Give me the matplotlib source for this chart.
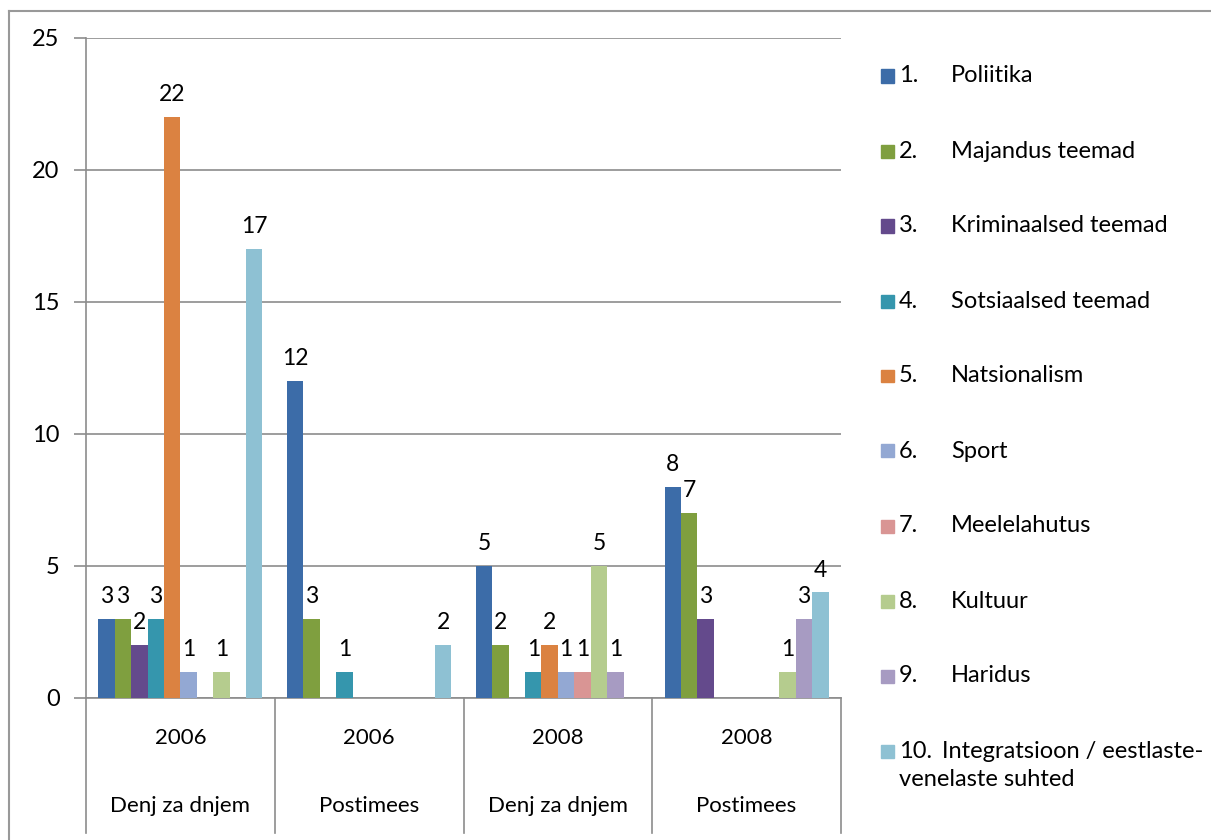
import matplotlib.pyplot as plt
from matplotlib.lines import Line2D
from matplotlib.patches import Rectangle
import numpy as np

plt.rcParams['font.family'] = ['Lato', 'DejaVu Sans']

# Data
years = ['2006', '2006', '2008', '2008']
papers = ['Denj za dnjem', 'Postimees', 'Denj za dnjem', 'Postimees']
nums = ['1.', '2.', '3.', '4.', '5.', '6.', '7.', '8.', '9.', '10.']
topics = ['Poliitika', 'Majandus teemad', 'Kriminaalsed teemad', 'Sotsiaalsed teemad',
          'Natsionalism', 'Sport', 'Meelelahutus', 'Kultuur', 'Haridus',
          'Integratsioon / eestlaste-\nvenelaste suhted']
values = [
    [3, 12, 5, 8],   # Poliitika
    [3, 3, 2, 7],    # Majandus
    [2, 0, 0, 3],    # Kriminaalsed
    [3, 1, 1, 0],    # Sotsiaalsed
    [22, 0, 2, 0],   # Natsionalism
    [1, 0, 1, 0],    # Sport
    [0, 0, 1, 0],    # Meelelahutus
    [1, 0, 5, 1],    # Kultuur
    [0, 0, 1, 3],    # Haridus
    [17, 2, 0, 4],   # Integratsioon
]
colors = ['#3c6ca8', '#7f9f3f', '#644a8c', '#3596ad', '#db8241',
          '#93a8d3', '#d99594', '#b5cc8e', '#a79bc2', '#8ec1d3']

W, H = 1211, 840
fig = plt.figure(figsize=(W / 100, H / 100), dpi=100)
x0, x1, y0, y1 = 86, 841, 698, 38
ax = fig.add_axes([x0 / W, 1 - y0 / H, (x1 - x0) / W, (y0 - y1) / H])

n = len(topics)
bw = 0.087
centers = np.arange(len(years)) + 0.5
for i in range(n):
    xs = centers + (i - (n - 1) / 2) * bw
    ax.bar(xs, values[i], width=bw, color=colors[i], zorder=3)
    for x, v in zip(xs, values[i]):
        if v > 0:
            ax.text(x, v + 0.45, str(v), ha='center', va='bottom', fontsize=16.5, color='black', zorder=4)

ax.set_xlim(0, len(years))
ax.set_ylim(0, 25)
ax.set_yticks(range(0, 26, 5))
ax.yaxis.grid(True, color='#8c8c8c', lw=1.2, zorder=0)
ax.set_xticks([])
ax.tick_params(axis='y', length=9, color='#8c8c8c', width=1.2, labelsize=17, pad=10)
for s in ['top', 'right']:
    ax.spines[s].set_visible(False)
for s in ['left', 'bottom']:
    ax.spines[s].set_color('#8c8c8c')
    ax.spines[s].set_linewidth(1.2)

# category separators and labels below axis
for k in range(len(years) + 1):
    xp = x0 + k * (x1 - x0) / len(years)
    fig.add_artist(Line2D([xp / W, xp / W], [1 - y0 / H, 1 - 833 / H], color='#8c8c8c', lw=1.2))
for k in range(len(years)):
    xc = (x0 + (k + 0.5) * (x1 - x0) / len(years)) / W
    fig.text(xc, 1 - 738 / H, years[k], ha='center', va='center', fontsize=16)
    fig.text(xc, 1 - 806 / H, papers[k], ha='center', va='center', fontsize=16)

# legend
for i in range(n):
    yc = 76 + i * 75
    fig.add_artist(Rectangle((881 / W, 1 - (yc + 6.5) / H), 13 / W, 13 / H, color=colors[i]))
    fig.text(899 / W, 1 - yc / H, nums[i], ha='left', va='center', fontsize=17)
    if i < n - 1:
        fig.text(951 / W, 1 - yc / H, topics[i], ha='left', va='center', fontsize=17)
    else:
        first, second = topics[i].split('\n')
        fig.text(942 / W, 1 - yc / H, first, ha='left', va='center', fontsize=17)
        fig.text(899 / W, 1 - (yc + 29) / H, second, ha='left', va='center', fontsize=17)

# outer frame
fig.add_artist(Line2D([9 / W, 1], [1 - 11 / H, 1 - 11 / H], color='#999999', lw=1.5))
fig.add_artist(Line2D([9 / W, 9 / W], [0, 1 - 11 / H], color='#999999', lw=1.5))

fig.savefig('out.png', dpi=100)
